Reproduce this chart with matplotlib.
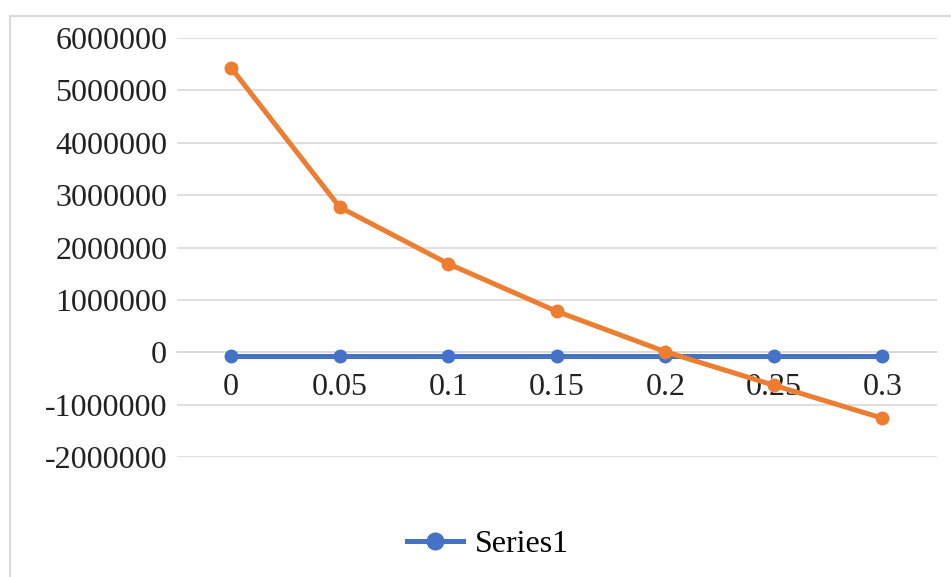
"""Excel-style line chart: two series over discount rates."""

import matplotlib.pyplot as plt
from matplotlib.lines import Line2D
from matplotlib.patches import Rectangle

categories = ["0", "0.05", "0.1", "0.15", "0.2", "0.25", "0.3"]
series1 = [-70000, -70000, -70000, -70000, -70000, -70000, -70000]
series2 = [5430000, 2770000, 1690000, 780000, 10000, -630000, -1260000]
y_ticks = [-2000000, -1000000, 0, 1000000, 2000000, 3000000, 4000000, 5000000, 6000000]

BLUE = "#4472C4"
ORANGE = "#ED7D31"
GRID = "#D9D9D9"
FS = 23

plt.rcParams["font.family"] = ["Liberation Serif", "DejaVu Serif"]

fig = plt.figure(figsize=(9.51, 5.77), dpi=100)
ax = fig.add_axes([0.186, 0.208, 0.799, 0.726])

# move the category axis to y=0 first, it resets tick settings
for side in ("top", "right", "left"):
    ax.spines[side].set_visible(False)
ax.spines["bottom"].set_position(("data", 0))
ax.spines["bottom"].set_color(GRID)
ax.spines["bottom"].set_linewidth(1.2)

x = list(range(len(categories)))
ax.plot(x, series1, color=BLUE, lw=3.6, marker="o", ms=9, zorder=3)
ax.plot(x, series2, color=ORANGE, lw=3.6, marker="o", ms=9, zorder=4)

ax.set_xlim(-0.5, len(categories) - 0.5)
ax.set_ylim(-2000000, 6000000)
ax.set_yticks(y_ticks)
ax.set_yticklabels([str(v) for v in y_ticks])
ax.set_xticks(x)
ax.set_xticklabels(categories)

ax.grid(axis="y", color=GRID, lw=1.2)
ax.set_axisbelow(True)
ax.tick_params(axis="both", length=0, colors="#222222", labelsize=FS)
ax.tick_params(axis="x", pad=15)
ax.tick_params(axis="y", pad=7)

handle = Line2D([], [], color=BLUE, lw=3.6, marker="o", ms=12)
fig.legend([handle], ["Series1"], loc="center", bbox_to_anchor=(0.513, 0.057),
           frameon=False, fontsize=FS, handlelength=1.75, handletextpad=0.35)

fig.patches.append(Rectangle((10 / 951, -0.01), 1.0, 1 - 16 / 577 + 0.01,
                             transform=fig.transFigure, fill=False,
                             edgecolor=GRID, lw=1.5))

fig.savefig("out.png", dpi=100)
